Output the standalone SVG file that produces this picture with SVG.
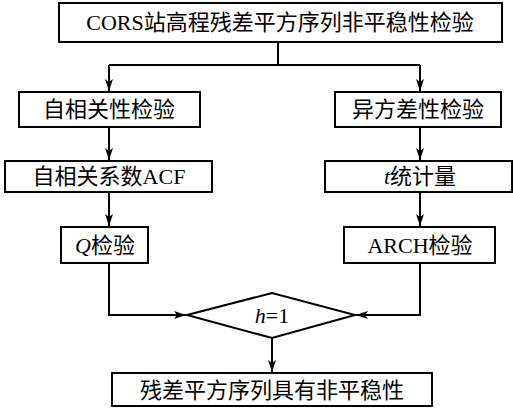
<svg xmlns="http://www.w3.org/2000/svg" width="513" height="410" viewBox="0 0 513 410">
<style>
.box{fill:#fff;stroke:#000;stroke-width:2}
.ln{fill:none;stroke:#000;stroke-width:2}
text{font-family:"Liberation Serif","Noto Sans CJK SC",serif;font-size:22px;fill:#000;text-anchor:middle}
.it{font-style:italic}
</style>
<defs>
<marker id="ar" viewBox="0 0 12 8" refX="12" refY="4" markerWidth="12" markerHeight="8" markerUnits="userSpaceOnUse" orient="auto">
<path d="M0,0 L12,4 L0,8 L3,4 Z" fill="#000"/>
</marker>
</defs>
<g id="connectors">
<path class="ln" d="M278,42 V65 M109,65 H420"/>
<path class="ln" d="M109,65 V91" marker-end="url(#ar)"/>
<path class="ln" d="M420,65 V91" marker-end="url(#ar)"/>
<path class="ln" d="M109,127 V160" marker-end="url(#ar)"/>
<path class="ln" d="M420,127 V160" marker-end="url(#ar)"/>
<path class="ln" d="M109,192 V226" marker-end="url(#ar)"/>
<path class="ln" d="M420,192 V226" marker-end="url(#ar)"/>
<path class="ln" d="M109,263 V315 H186" marker-end="url(#ar)"/>
<path class="ln" d="M420,263 V315 H356" marker-end="url(#ar)"/>
<path class="ln" d="M272,338 V372" marker-end="url(#ar)"/>
</g>
<g id="n1"><rect class="box" x="59" y="3" width="443" height="39"/><text x="280" y="30">CORS站高程残差平方序列非平稳性检验</text></g>
<g id="n2"><rect class="box" x="19" y="92" width="181" height="35"/><text x="109" y="117">自相关性检验</text></g>
<g id="n3"><rect class="box" x="335" y="92" width="166" height="35"/><text x="418" y="117">异方差性检验</text></g>
<g id="n4"><rect class="box" x="5" y="161" width="207" height="31"/><text x="109" y="184">自相关系数ACF</text></g>
<g id="n5"><rect class="box" x="325" y="161" width="187" height="31"/><text x="420" y="184"><tspan class="it">t</tspan>统计量</text></g>
<g id="n6"><rect class="box" x="61" y="227" width="87" height="36"/><text x="105" y="253"><tspan class="it">Q</tspan>检验</text></g>
<g id="n7"><rect class="box" x="344" y="227" width="151" height="36"/><text x="420" y="253">ARCH检验</text></g>
<g id="n8"><path class="box" d="M187,315 L272,293 L355,315 L272,338 Z"/><text x="272" y="323"><tspan class="it">h</tspan>=1</text></g>
<g id="n9"><rect class="box" x="112" y="373" width="320" height="33"/><text x="272" y="398">残差平方序列具有非平稳性</text></g>
</svg>
